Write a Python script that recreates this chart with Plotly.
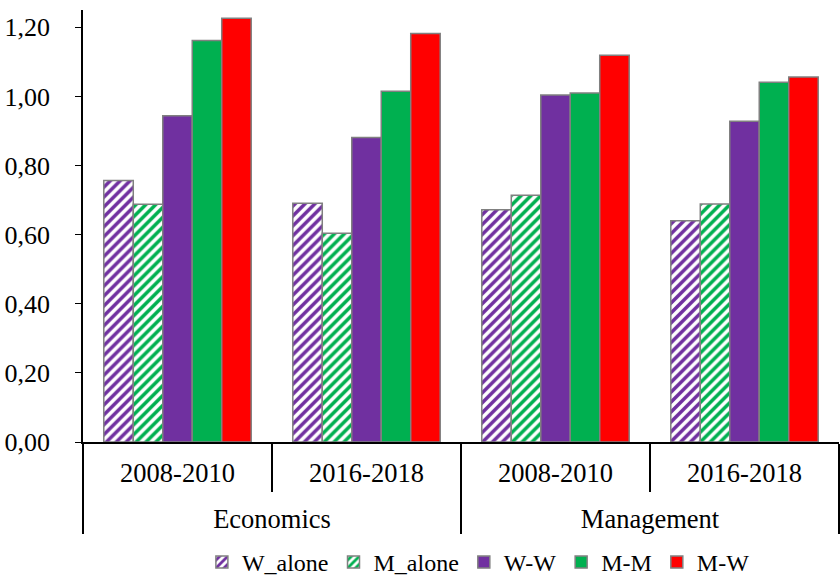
import plotly.graph_objects as go

fields = ["Economics", "Economics", "Management", "Management"]
periods = ["2008-2010", "2016-2018", "2008-2010", "2016-2018"]

series_names = ["W_alone", "M_alone", "W-W", "M-M", "M-W"]
w_alone = [0.757, 0.691, 0.672, 0.640]
m_alone = [0.688, 0.604, 0.714, 0.689]
w_w = [0.944, 0.881, 1.004, 0.928]
m_m = [1.162, 1.015, 1.010, 1.041]
m_w = [1.226, 1.182, 1.119, 1.056]

y_ticks = [0, 0.2, 0.4, 0.6, 0.8, 1.0, 1.2]

purple = "#7030A0"
green = "#00B050"
red = "#FF0000"
edge = "#808080"

# taller blank spacers deepen the inner label row so the outer row sits lower
spacer = "<span style='font-size:45px'>&nbsp;</span>"
period_labels = [spacer + p + spacer for p in periods]

fig = go.Figure()
x = [fields, period_labels]

def add(name, vals, color, pattern=False):
    if pattern:
        marker = dict(color="white", line=dict(color=edge, width=1.5),
                      pattern=dict(shape="/", fgcolor=color, bgcolor="white",
                                   size=7, solidity=0.5, fillmode="replace"))
    else:
        marker = dict(color=color, line=dict(color=edge, width=1.5))
    fig.add_trace(go.Bar(name=name, x=x, y=vals, marker=marker))

add(series_names[0], w_alone, purple, pattern=True)
add(series_names[1], m_alone, green, pattern=True)
add(series_names[2], w_w, purple)
add(series_names[3], m_m, green)
add(series_names[4], m_w, red)

fig.update_layout(
    width=840, height=585,
    paper_bgcolor="white", plot_bgcolor="white",
    margin=dict(l=83, r=1, t=10, b=143),
    barmode="group", bargap=0.22, bargroupgap=0,
    separators=",.",
    font=dict(family="Liberation Serif", size=25, color="black"),
    showlegend=True,
    legend=dict(orientation="h", x=0.523, xanchor="center", yref="container",
                y=-0.026, yanchor="bottom", font=dict(family="Liberation Serif", size=24),
                itemwidth=30, traceorder="normal"),
)
fig.update_yaxes(range=[0, 1.25], tickvals=y_ticks, tickformat=".2f",
                 showgrid=False, zeroline=False, showline=True, linecolor="black",
                 linewidth=1.5, ticks="outside", ticklen=6, tickcolor="black",
                 ticklabelstandoff=20, automargin=False,
                 tickfont=dict(family="Liberation Serif", size=26, color="black"))
fig.update_xaxes(showgrid=False, showline=True, linecolor="black", linewidth=1.5,
                 ticks="outside", ticklen=48, tickcolor="black", tickwidth=1.5,
                 ticklabelstandoff=6, tickangle=0, automargin=False,
                 showdividers=True, dividercolor="black", dividerwidth=1.5,
                 tickfont=dict(family="Liberation Serif", size=26.5, color="black"))

fig.write_html("out.html", config={"displayModeBar": False},
               post_script="document.body.style.margin='0px';")
